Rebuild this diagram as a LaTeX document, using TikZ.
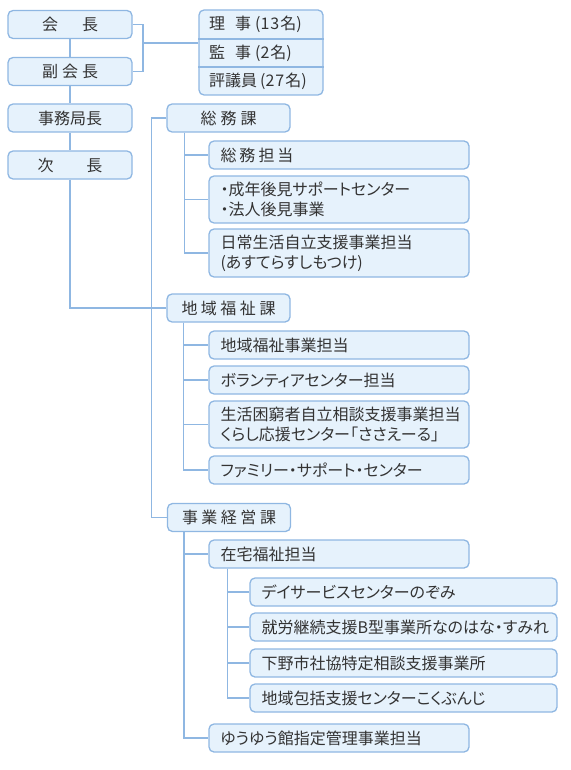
\documentclass[tikz,border=0pt]{standalone}
\usepackage{fontspec}
\setmainfont[RawFeature=+palt]{Noto Sans CJK JP}
\newfontfamily\fwfont{Noto Sans CJK JP}
\definecolor{bline}{HTML}{8FB7E2}
\definecolor{bfill}{HTML}{E6F2FC}
\definecolor{tx}{HTML}{333333}
\tikzset{
  bx/.style={draw=bline, fill=bfill, line width=1.3pt, rounded corners=5pt, text=tx, inner sep=0pt, font=\fontsize{16}{20}\selectfont},
  lbox/.style={bx, minimum width=124pt, minimum height=28pt},
  hbox/.style={bx, minimum width=123pt, minimum height=28pt},
  cbox/.style={bx, text width=237pt, inner xsep=11.5pt, align=left, minimum height=28pt},
  sbox/.style={cbox, text width=284pt},
  rtxt/.style={anchor=west, text=tx, inner sep=0pt, font=\fontsize{16}{20}\selectfont},
  conn/.style={draw=bline, line width=1.3pt},
}
\begin{document}
\begin{tikzpicture}[x=1pt,y=-1pt]
\useasboundingbox (0,0) rectangle (570,770);
% left column
\node[lbox] (kai) at (70,24.5) {会\hspace{24pt}長};
\node[lbox] (fuku) at (70,71.5) {副\hspace{4pt}会\hspace{4pt}長};
\node[lbox] (jimu) at (70,118) {事務局長};
\node[lbox] (ji) at (70,165) {次\hspace{33pt}長};
% right group
\node[bx, minimum width=124pt, minimum height=85pt] (rg) at (261,52.5) {};
\draw[conn] (rg.west |- 0,39) -- (rg.east |- 0,39);
\draw[conn] (rg.west |- 0,67) -- (rg.east |- 0,67);
\node[rtxt] (r1) at (209,24.5) {理\hspace{10pt}事\hspace{4pt}(1\hspace{1pt}3\hspace{1pt}名)};
\node[rtxt] (r2) at (209,53) {監\hspace{10pt}事\hspace{4pt}(2\hspace{1pt}名)};
\node[rtxt] (r3) at (209,81) {評議員\hspace{3pt}(2\hspace{1pt}7\hspace{1pt}名)};
% bracket
\coordinate (br) at (143,43);
\draw[conn] (kai.east) -| (br) |- (fuku.east);
\draw[conn] (br) -- (rg.west |- br);
% headings
\node[hbox] (somu) at (228.5,118) {総\hspace{4pt}務\hspace{4pt}課};
\node[hbox] (chiiki) at (228.5,308) {地\hspace{3.5pt}域\hspace{3.5pt}福\hspace{3.5pt}祉\hspace{3.5pt}課};
\node[hbox] (jigyo) at (229,517.5) {事\hspace{3.5pt}業\hspace{3.5pt}経\hspace{3.5pt}営\hspace{3.5pt}課};
% left column connectors
\draw[conn] (kai) -- (fuku);
\draw[conn] (fuku) -- (jimu);
\draw[conn] (jimu) -- (ji);
\draw[conn] (ji.south) |- (chiiki.west);
\draw[conn] (somu.west) -- ++(-15,0) |- (jigyo.west);
% somu children
\node[cbox] (s1) at (339,155) {総\hspace{3pt}務\hspace{3pt}担\hspace{3pt}当};
\node[cbox, minimum height=47pt] (s2) at (339,199.5) {・成年後見サポートセンター\\・法人後見事業};
\node[cbox, minimum height=48pt] (s3) at (339,253) {日常生活自立支援事業担当\\(あすてらすしもつけ)};
\draw[conn] ([xshift=18pt]somu.south west) |- (s3.west);
\draw[conn] ([xshift=18pt]somu.south west) |- (s1.west);
\draw[conn] ([xshift=18pt]somu.south west) |- (s2.west);
% chiiki children
\node[cbox] (c1) at (339,345) {地域福祉事業担当};
\node[cbox] (c2) at (339,380) {ボランティアセンター担当};
\node[cbox, minimum height=47pt] (c3) at (339,424.5) {生活困窮者自立相談支援事業担当\\くらし応援センター「ささえーる」};
\node[cbox] (c4) at (339,470) {ファミリー・サポート・センター};
\draw[conn] ([xshift=17pt]chiiki.south west) |- (c4.west);
\draw[conn] ([xshift=17pt]chiiki.south west) |- (c1.west);
\draw[conn] ([xshift=17pt]chiiki.south west) |- (c2.west);
\draw[conn] ([xshift=17pt]chiiki.south west) |- (c3.west);
% jigyo children
\node[cbox] (j1) at (339,554) {在宅福祉担当};
\node[cbox] (j2) at (339,738) {ゆうゆう館指定管理事業担当};
\draw[conn] ([xshift=17pt]jigyo.south west) |- (j2.west);
\draw[conn] ([xshift=17pt]jigyo.south west) |- (j1.west);
% zaitaku children
\node[sbox] (z1) at (403.5,592) {デイサービスセンターのぞみ};
\node[sbox] (z2) at (403.5,627) {就労継続支援B型事業所なのはな・すみれ};
\node[sbox] (z3) at (403.5,663) {下野市社協特定相談支援事業所};
\node[sbox] (z4) at (403.5,698) {地域包括支援センターこくぶんじ};
\draw[conn] ([xshift=19pt]j1.south west) |- (z4.west);
\draw[conn] ([xshift=19pt]j1.south west) |- (z1.west);
\draw[conn] ([xshift=19pt]j1.south west) |- (z2.west);
\draw[conn] ([xshift=19pt]j1.south west) |- (z3.west);
\end{tikzpicture}
\end{document}
